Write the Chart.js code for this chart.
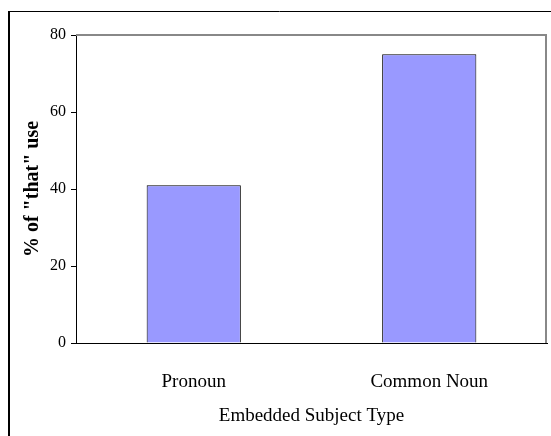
<!DOCTYPE html>
<html>
<head>
<meta charset="utf-8">
<script src="https://cdn.jsdelivr.net/npm/chart.js@4"></script>
<style>
  body { margin: 0; background: #fff; }
  #wrap { width: 551px; height: 436px; }
</style>
</head>
<body>
<div id="wrap"><canvas id="myChart" width="551" height="436"></canvas></div>
<script>
const categories = ['Pronoun', 'Common Noun'];
const thatUse = [41, 75];
const yTicks = [0, 20, 40, 60, 80];

// outer frame of the picture and the grey top/right edges of the plot
const framePlugin = {
  id: 'frame',
  afterDraw(chart) {
    const ctx = chart.ctx;
    const a = chart.chartArea;
    ctx.save();
    ctx.strokeStyle = '#888';
    ctx.lineWidth = 2;
    ctx.beginPath();
    ctx.moveTo(a.left, a.top);
    ctx.lineTo(a.right - 1, a.top);
    ctx.lineTo(a.right - 1, a.bottom);
    ctx.stroke();
    ctx.strokeStyle = '#000';
    ctx.lineWidth = 2;
    ctx.beginPath();
    ctx.moveTo(9, 436);
    ctx.lineTo(9, 11);
    ctx.stroke();
    ctx.lineWidth = 1;
    ctx.beginPath();
    ctx.moveTo(8, 11.5);
    ctx.lineTo(551, 11.5);
    ctx.stroke();
    ctx.restore();
  }
};

function makeChart() {
  const ctx = document.getElementById('myChart');
  return new Chart(ctx, {
    type: 'bar',
    data: {
      labels: categories,
      datasets: [{
        data: thatUse,
        backgroundColor: '#9999FF',
        borderColor: '#000',
        borderWidth: 1,
        barPercentage: 0.4,
        categoryPercentage: 1
      }]
    },
    options: {
      responsive: false,
      animation: false,
      layout: { padding: { top: 35, right: 4, left: 0, bottom: 0 } },
      plugins: {
        legend: { display: false },
        tooltip: { enabled: false }
      },
      scales: {
        y: {
          min: 0,
          max: 80,
          afterFit(scale) { scale.width = 76; },
          afterBuildTicks(scale) { scale.ticks = yTicks.map(v => ({ value: v })); },
          border: { display: true, color: '#000', width: 1 },
          grid: { drawOnChartArea: false, drawTicks: true, tickLength: 5, color: '#000' },
          ticks: {
            color: '#000',
            padding: 5,
            font: { family: 'Liberation Serif', size: 16 }
          },
          title: {
            display: true,
            text: '% of "that" use',
            color: '#000',
            padding: { top: 21, bottom: 0 },
            font: { family: 'Liberation Serif', size: 20, weight: 'bold' }
          }
        },
        x: {
          afterFit(scale) { scale.height = 93; },
          border: { display: true, color: '#000', width: 1 },
          grid: { display: false },
          ticks: {
            color: '#000',
            padding: 20,
            font: { family: 'Liberation Serif', size: 19 }
          },
          title: {
            display: true,
            text: 'Embedded Subject Type',
            color: '#000',
            padding: { top: 0, bottom: 9 },
            font: { family: 'Liberation Serif', size: 19 }
          }
        }
      }
    },
    plugins: [framePlugin]
  });
}

document.addEventListener('DOMContentLoaded', function() {
  makeChart();
});
</script>
</body>
</html>
